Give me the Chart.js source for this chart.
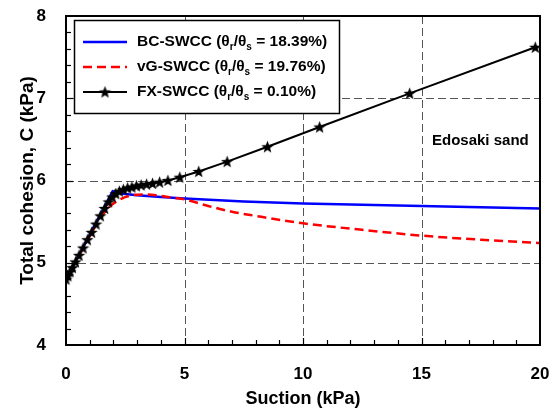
<!DOCTYPE html>
<html>
<head>
<meta charset="utf-8">
<script src="https://cdn.jsdelivr.net/npm/chart.js@4.4.1/dist/chart.umd.min.js"></script>
<style>
  html, body { margin: 0; padding: 0; background: #fff; }
</style>
</head>
<body>
<canvas id="chart" width="556" height="412"></canvas>
<script>
// values
const bcSuction  = [0, 1.97, 2.4, 3, 4, 5, 7.5, 10, 12.5, 15, 17.5, 20];
const bcCohesion = [4.8, 5.87, 5.84, 5.82, 5.80, 5.78, 5.745, 5.72, 5.705, 5.69, 5.675, 5.66];

const vgSuction  = [0, 0.5, 1.0, 1.4, 1.7, 2.0, 2.35, 2.8, 3.3, 3.8, 4.5, 5, 6, 7, 8, 10, 12.5, 15, 17.5, 20];
const vgCohesion = [4.8, 5.06, 5.32, 5.52, 5.64, 5.72, 5.78, 5.82, 5.83, 5.82, 5.79, 5.77, 5.69, 5.62, 5.57, 5.48, 5.40, 5.33, 5.28, 5.24];

const fxSuction  = [0, 0.08, 0.17, 0.27, 0.4, 0.55, 0.72, 0.9, 1.08, 1.27, 1.45, 1.63, 1.8, 1.95, 2.1, 2.25,
                    2.42, 2.6, 2.78, 2.97, 3.17, 3.4, 3.65, 3.95, 4.3, 4.8, 5.6, 6.8, 8.5, 10.7, 14.5, 19.8];
const fxCohesion = [4.8, 4.84, 4.89, 4.94, 5.01, 5.09, 5.18, 5.28, 5.37, 5.47, 5.57, 5.66, 5.74, 5.80, 5.84, 5.87,
                    5.89, 5.91, 5.92, 5.935, 5.945, 5.955, 5.965, 5.98, 6.00, 6.04, 6.11, 6.23, 6.41, 6.65, 7.06, 7.62];

const seriesNames = ['BC-SWCC', 'vG-SWCC', 'FX-SWCC'];
const ratioLabels = ['18.39%', '19.76%', '0.10%'];
const xTicksMajor = [5, 10, 15];
const yTicksMajor = [5, 6, 7];

function pts(xs, ys) {
    return xs.map((x, i) => ({ x: x, y: ys[i] }));
}

// filled five point star for the FX markers
function makeStar(size) {
    const c = document.createElement('canvas');
    c.width = size; c.height = size;
    const g = c.getContext('2d');
    const cx = size / 2, cy = size / 2 + 0.5, R = size / 2, r = R * 0.42;
    g.beginPath();
    for (let i = 0; i < 10; i++) {
        const rad = i % 2 === 0 ? R : r;
        const a = -Math.PI / 2 + i * Math.PI / 5;
        const px = cx + rad * Math.cos(a), py = cy + rad * Math.sin(a);
        if (i === 0) g.moveTo(px, py); else g.lineTo(px, py);
    }
    g.closePath();
    g.fillStyle = '#000';
    g.fill();
    return c;
}
const star = makeStar(13);

const FONT = 'Liberation Sans, Arial, sans-serif';

const frame = {
    id: 'frame',
    beforeDatasetsDraw(chart) {
        const { ctx, chartArea: a, scales: { x, y } } = chart;
        ctx.save();
        ctx.strokeStyle = '#555';
        ctx.lineWidth = 1;
        ctx.setLineDash([8, 4]);
        xTicksMajor.forEach(v => {
            const px = Math.round(x.getPixelForValue(v)) + 0.5;
            ctx.beginPath(); ctx.moveTo(px, a.top); ctx.lineTo(px, a.bottom); ctx.stroke();
        });
        yTicksMajor.forEach(v => {
            const py = Math.round(y.getPixelForValue(v)) + 0.5;
            ctx.beginPath(); ctx.moveTo(a.left, py); ctx.lineTo(a.right, py); ctx.stroke();
        });
        ctx.restore();
    },
    afterDatasetsDraw(chart) {
        const { ctx, chartArea: a, scales: { x, y } } = chart;
        ctx.save();
        // minor ticks pointing inward
        ctx.strokeStyle = '#000';
        ctx.lineWidth = 1.2;
        for (let v = 1; v < 20; v++) {
            const px = Math.round(x.getPixelForValue(v)) + 0.5;
            const len = v % 5 === 0 ? 7 : 5;
            ctx.beginPath(); ctx.moveTo(px, a.bottom); ctx.lineTo(px, a.bottom - len); ctx.stroke();
        }
        for (let k = 1; k < 20; k++) {
            const v = 4 + k * 0.2;
            const py = Math.round(y.getPixelForValue(v)) + 0.5;
            const len = k % 5 === 0 ? 7 : 5;
            ctx.beginPath(); ctx.moveTo(a.left, py); ctx.lineTo(a.left + len, py); ctx.stroke();
        }
        ctx.lineWidth = 2;
        ctx.strokeRect(a.left, a.top, a.right - a.left, a.bottom - a.top);

        // legend box
        const lx = a.left + 8, ly = a.top + 4, lw = 265, lh = 93;
        ctx.fillStyle = '#fff';
        ctx.fillRect(lx, ly, lw, lh);
        ctx.lineWidth = 1.5;
        ctx.strokeRect(lx + 0.5, ly + 0.5, lw, lh);

        const order = [2, 1, 0]; // dataset index for BC, vG, FX
        order.forEach((di, row) => {
            const ds = chart.data.datasets[di];
            const cy = ly + 22 + row * 25;
            ctx.strokeStyle = ds.borderColor;
            ctx.lineWidth = ds.borderWidth;
            ctx.setLineDash(ds.borderDash || []);
            ctx.beginPath(); ctx.moveTo(lx + 9, cy); ctx.lineTo(lx + 53, cy); ctx.stroke();
            ctx.setLineDash([]);
            if (ds.pointStyle === star) ctx.drawImage(star, lx + 31 - 6.5, cy - 6.5);

            let tx = lx + 63;
            ctx.fillStyle = '#000';
            ctx.textBaseline = 'middle';
            ctx.textAlign = 'left';
            const big = 'bold 15.5px ' + FONT, small = 'bold 10px ' + FONT;
            const parts = [
                [seriesNames[row] + ' (\u03B8', big, 0],
                ['r', small, 5],
                ['/\u03B8', big, 0],
                ['s', small, 5],
                [' = ' + ratioLabels[row] + ')', big, 0]
            ];
            parts.forEach(p => {
                ctx.font = p[1];
                ctx.fillText(p[0], tx, cy + p[2]);
                tx += ctx.measureText(p[0]).width;
            });
        });

        ctx.font = 'bold 15px ' + FONT;
        ctx.fillStyle = '#000';
        ctx.textAlign = 'left';
        ctx.textBaseline = 'middle';
        ctx.fillText('Edosaki sand', 432, y.getPixelForValue(6.48));
        ctx.restore();
    }
};

// keep the label overflow from pushing the plot area in
function noOverflow(s) {
    s.paddingTop = 0; s.paddingBottom = 0; s.paddingLeft = 0; s.paddingRight = 0;
}

const ctx = document.getElementById('chart').getContext('2d');
const chart = new Chart(ctx, {
    type: 'line',
    data: {
        datasets: [
            {
                label: 'FX-SWCC',
                data: pts(fxSuction, fxCohesion),
                borderColor: '#000',
                borderWidth: 2,
                pointStyle: star,
                pointRadius: 6,
                tension: 0,
                order: 0
            },
            {
                label: 'vG-SWCC',
                data: pts(vgSuction, vgCohesion),
                borderColor: '#ff0000',
                borderWidth: 2.5,
                borderDash: [9, 5],
                pointRadius: 0,
                cubicInterpolationMode: 'monotone',
                order: 1
            },
            {
                label: 'BC-SWCC',
                data: pts(bcSuction, bcCohesion),
                borderColor: '#0000ff',
                borderWidth: 2.5,
                pointRadius: 0,
                tension: 0,
                order: 2
            }
        ]
    },
    options: {
        responsive: false,
        animation: false,
        layout: { padding: { top: 16, right: 16, left: 0, bottom: 0 } },
        plugins: { legend: { display: false }, tooltip: { enabled: false } },
        scales: {
            x: {
                type: 'linear',
                min: 0, max: 20,
                grid: { display: false },
                border: { display: false },
                ticks: { stepSize: 5, color: '#000', padding: 11, font: { family: FONT, size: 17, weight: 'bold' } },
                title: { display: true, text: 'Suction (kPa)', color: '#000', padding: { top: 0, bottom: 2 },
                         font: { family: FONT, size: 18, weight: 'bold' } },
                afterFit(s) { s.height = 67; noOverflow(s); }
            },
            y: {
                min: 4, max: 8,
                grid: { display: false },
                border: { display: false },
                ticks: { stepSize: 1, color: '#000', padding: 12, font: { family: FONT, size: 17, weight: 'bold' } },
                title: { display: true, text: 'Total cohesion, C (kPa)', color: '#000', padding: { top: 16, bottom: 0 },
                         font: { family: FONT, size: 19, weight: 'bold' } },
                afterFit(s) { s.width = 66; noOverflow(s); }
            }
        }
    },
    plugins: [frame]
});
</script>
</body>
</html>
